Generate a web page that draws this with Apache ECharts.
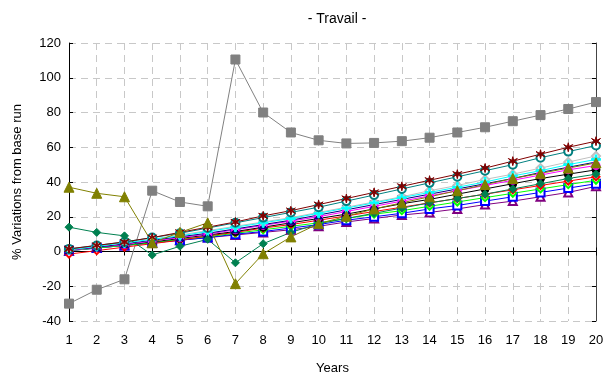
<!DOCTYPE html>
<html><head><meta charset="utf-8">
<script src="https://cdn.jsdelivr.net/npm/echarts@6/dist/echarts.min.js"></script>
<style>html,body{margin:0;padding:0;background:#fff}#c{width:611px;height:380px}</style>
</head><body><div id="c"></div>
<script>
const years = ['1','2','3','4','5','6','7','8','9','10','11','12','13','14','15','16','17','18','19','20'];
const yTicks = [-40,-20,0,20,40,60,80,100,120];

const sGray    = [-30, -22, -16, 35, 28.5, 26, 110.5, 80, 68.5, 64, 62.2, 62.5, 63.5, 65.5, 68.5, 71.5, 75, 78.5, 82, 86];
const sOlive   = [37, 33.5, 31.5, 5, 11, 16.5, -18.5, -1.3, 8.4, 16, 20.3, 24.5, 28, 31.5, 35, 38.5, 42, 45, 48, 51];
const sSeaGreen= [14, 11, 9, -2, 3, 7, -6.5, 4.5, 11, 16, 19, 22, 25, 28, 30.5, 33, 36, 39, 42, 44.5];
const sDarkRed = [1.5, 3.5, 5.5, 8, 11, 14, 17, 20.5, 23.5, 27, 30.5, 34, 37.5, 41, 44.5, 48, 52, 56, 60, 63.5];
const sTeal    = [1.5, 3.5, 5.5, 8, 10.5, 13.5, 16.5, 19.5, 22.5, 25.5, 29, 32.5, 36, 39.5, 43, 46.5, 50, 54, 57.5, 61];
const sSilver  = [1, 3, 5, 7, 9.5, 12, 14.5, 17, 19.5, 22.5, 25.5, 28.5, 31.5, 35, 38, 41.5, 44.5, 48, 51.5, 55];
const sCyan    = [1, 3, 5, 7, 9, 11.5, 14, 16.5, 19, 22, 25, 28, 31, 34, 37, 40, 43.5, 46.5, 50, 53];
const sNavy    = [1, 2.5, 4.5, 6.5, 8.5, 10.5, 13, 15.5, 18, 21, 24, 27, 30, 33, 36, 39, 42, 45.5, 48.5, 51.5];
const sMagenta = [0.5, 2.5, 4, 6, 8, 10, 12.5, 15, 17.5, 20, 23, 26, 29, 32, 35, 38, 41, 44, 47, 49.5];
const sBlack   = [1, 2.5, 4, 5.5, 7.5, 9.5, 11.5, 14, 16.5, 19, 21.5, 24.5, 27.5, 30, 33, 36, 39, 42, 44.5, 47];
const sRed     = [-1.5, 0.5, 2.5, 4.5, 6.5, 9, 11, 13.5, 15.5, 18, 20.5, 23, 25.5, 28, 30.5, 33, 35.5, 38, 40.5, 43];
const sLime    = [0.5, 2, 3.5, 5, 7, 8.5, 10.5, 12.5, 14.5, 16.5, 19, 21.5, 23.5, 26, 28.5, 31, 33.5, 36, 38.5, 41];
const sBlue    = [0.5, 2, 3.5, 5, 6.5, 8, 10, 11.5, 13.5, 15.5, 18, 20, 22, 24.5, 26.5, 29, 31.5, 34, 36.5, 39];
const sPurple  = [0.5, 2, 3.5, 5, 6.5, 8, 9.5, 11, 12.5, 14.5, 17, 19, 21, 22.5, 24.5, 27, 29, 31.5, 34, 37.5];

const STAR = 'path://M5,0L6,4L10,2L7,5L10,8L6,6L5,10L4,6L0,8L3,5L0,2L4,4Z';
const PLUS = 'path://M4,0H6V4H10V6H6V10H4V6H0V4H4Z';
const BOW  = 'path://M0,0H10L6,5L10,10H0L4,5Z';

function mk(name, data, color, symbol, size, fill) {
  return {
    name, type: 'line', data, symbol, symbolSize: size,
    lineStyle: { color, width: 1 },
    itemStyle: { color: fill || color, borderColor: color, borderWidth: 1 },
    emphasis: { disabled: true }, animation: false, z: 3
  };
}

const chart = echarts.init(document.getElementById('c'), null, { renderer: 'canvas' });
const F = 'Liberation Sans, Arial, sans-serif';
chart.setOption({
  animation: false,
  title: { text: '- Travail -', left: 332, textAlign: 'center', top: 7,
    textStyle: { fontFamily: F, fontSize: 14, fontWeight: 'normal', color: '#000' } },
  grid: { left: 69, right: 15, top: 43, bottom: 58 },
  xAxis: [{
    type: 'category', data: years, boundaryGap: false,
    name: 'Years', nameLocation: 'middle', nameGap: 41,
    nameTextStyle: { fontFamily: F, fontSize: 13, color: '#000' },
    axisLine: { lineStyle: { color: '#000', width: 1 } },
    axisTick: { inside: true, length: 4, lineStyle: { color: '#000' } },
    axisLabel: { fontFamily: F, fontSize: 13, color: '#000', margin: 13 },
    splitLine: { show: true, lineStyle: { color: '#c8c8c8', type: [7, 5], width: 1 } }
  }, {
    type: 'category', data: years, boundaryGap: false, position: 'top',
    axisLine: { lineStyle: { color: '#000', width: 1 } },
    axisTick: { inside: true, length: 4, lineStyle: { color: '#000' } },
    axisLabel: { show: false }
  }],
  yAxis: [{
    type: 'value', min: -40, max: 120, interval: 20,
    name: '% Variations from base run', nameLocation: 'middle', nameGap: 45,
    nameTextStyle: { fontFamily: F, fontSize: 13, color: '#000' },
    axisLine: { show: true, lineStyle: { color: '#000', width: 1 } },
    axisTick: { show: true, inside: true, length: 4, lineStyle: { color: '#000' } },
    axisLabel: { fontFamily: F, fontSize: 13, color: '#000', margin: 8,
      formatter: v => yTicks.includes(v) ? String(v) : '' },
    splitLine: { show: true, lineStyle: { color: '#c8c8c8', type: [7, 5], width: 1 } }
  }, {
    type: 'value', min: -40, max: 120, interval: 20, position: 'right',
    axisLine: { show: true, lineStyle: { color: '#444', width: 1 } },
    axisTick: { show: true, inside: true, length: 4, lineStyle: { color: '#000' } },
    axisLabel: { show: false }, splitLine: { show: false }
  }],
  series: [
    mk('Gray', sGray, '#808080', 'rect', 9),
    mk('Purple', sPurple, '#800080', 'emptyTriangle', 8),
    mk('Blue', sBlue, '#0000ff', 'emptyRect', 8),
    mk('Lime', sLime, '#00ff00', 'emptyDiamond', 7),
    mk('Red', sRed, '#ff0000', 'emptyDiamond', 7),
    mk('Black', sBlack, '#000000', 'circle', 8),
    mk('Magenta', sMagenta, '#ff00ff', 'emptyCircle', 7),
    mk('Navy', sNavy, '#000080', BOW, 8),
    mk('Silver', sSilver, '#c0c0c0', 'emptyDiamond', 8),
    mk('Cyan', sCyan, '#00ffff', PLUS, 9),
    mk('Teal', sTeal, '#008080', 'emptyCircle', 8),
    mk('DarkRed', sDarkRed, '#800000', STAR, 9),
    mk('SeaGreen', sSeaGreen, '#008050', 'diamond', 8),
    mk('Olive', sOlive, '#808000', 'triangle', 10)
  ]
});
</script></body></html>
